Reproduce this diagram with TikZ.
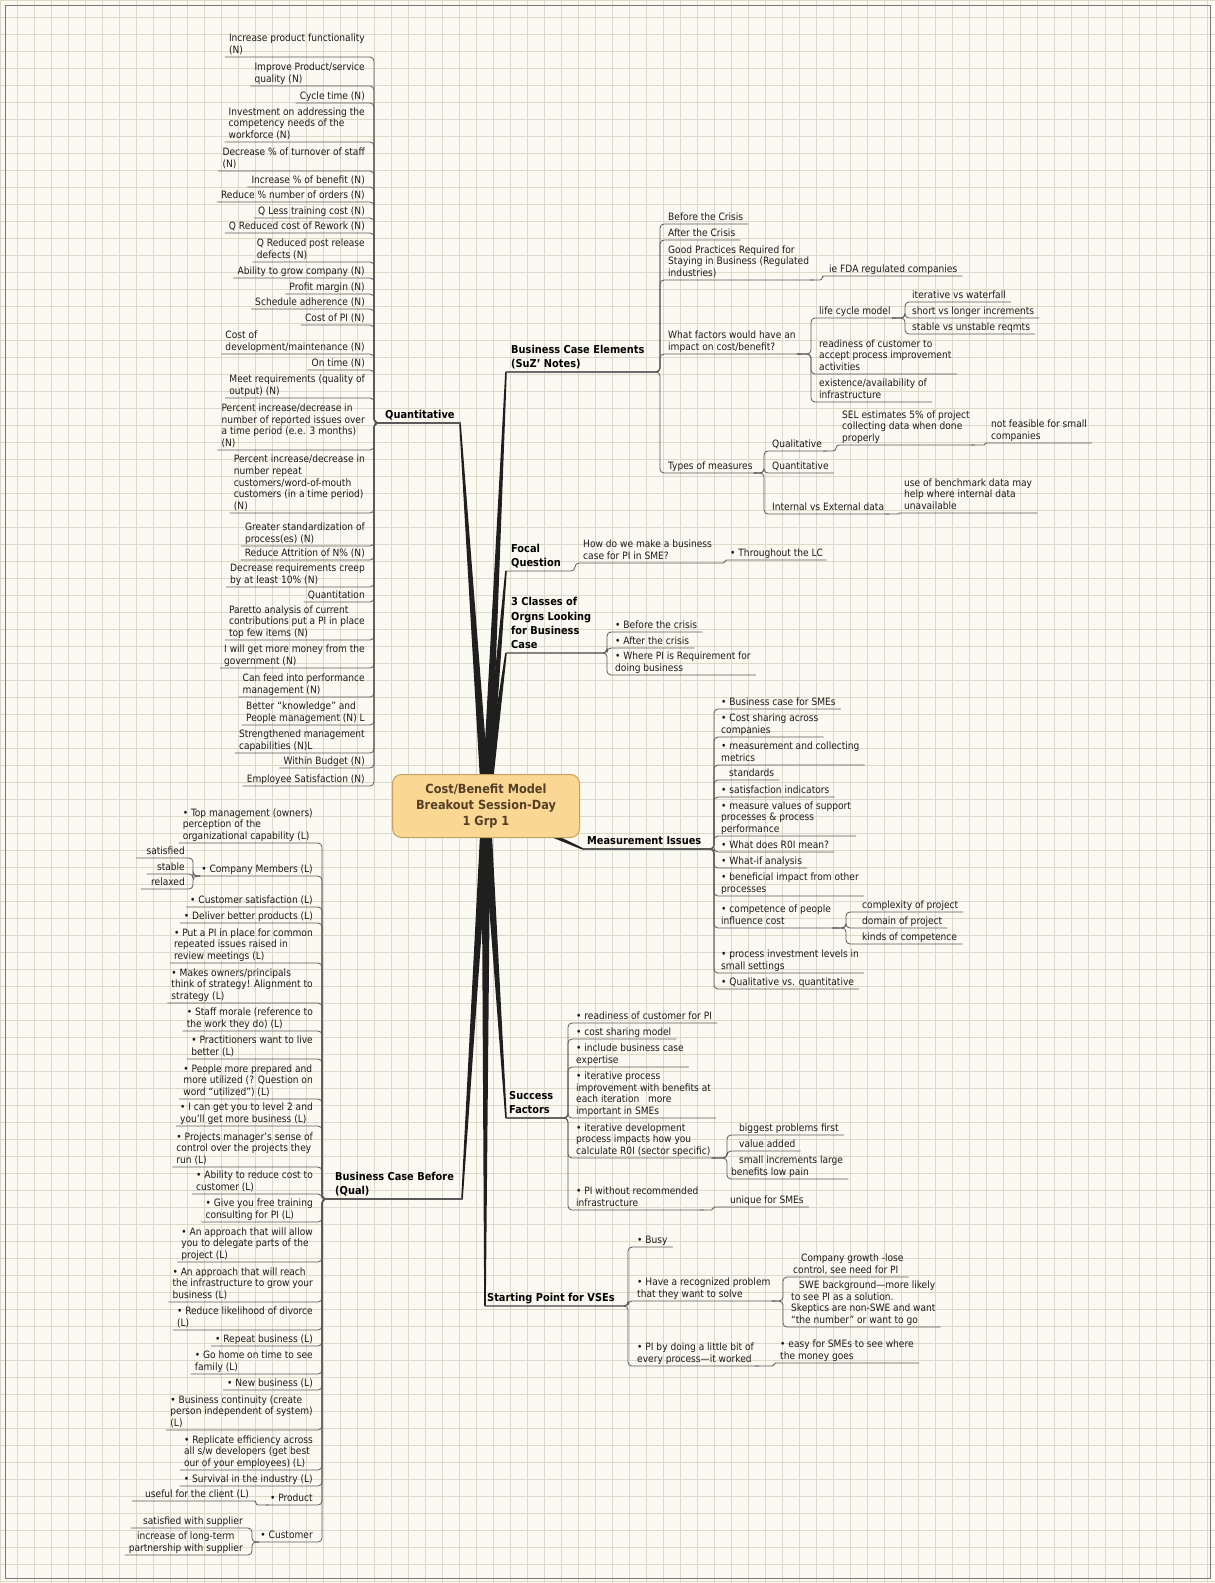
\documentclass[tikz,border=0pt]{standalone}
\usepackage{fontspec}
\setmainfont{DejaVu Sans Condensed}
\usetikzlibrary{calc}
\definecolor{paper}{RGB}{251,250,242}
\definecolor{gridc}{RGB}{218,218,200}
\definecolor{framec}{RGB}{120,120,120}
\definecolor{ink}{RGB}{25,25,25}
\definecolor{wire}{RGB}{90,90,90}
\definecolor{hubfill}{RGB}{250,216,148}
\definecolor{hubdraw}{RGB}{196,160,96}
\definecolor{hubtext}{RGB}{85,62,38}

\begin{document}
\begin{tikzpicture}[
    x=1pt, y=-1pt,
    leaf/.style={text=ink, font=\fontsize{10.1}{11.6}\selectfont, align=left,
        inner xsep=1pt, inner ysep=0pt, execute at end node=\strut},
    leafL/.style={leaf, anchor=south east},
    leafR/.style={leaf, anchor=south west},
    topic/.style={leaf, anchor=south west, text=black,
        font=\bfseries\fontsize{10.9}{14.2}\selectfont},
    hub/.style={draw=hubdraw, fill=hubfill, line width=1pt, rounded corners=9pt,
        text=hubtext, font=\bfseries\fontsize{12.6}{16}\selectfont, align=center,
        minimum width=187pt, minimum height=63pt, inner sep=0pt},
    conn/.style={draw=wire, line width=0.8pt, rounded corners=4pt},
    limb/.style={fill=black!88}
]
    \useasboundingbox (0,0) rectangle (1215,1583);
    % paper and grid
    \fill[paper] (0,0) rectangle (1215,1583);
    \foreach \x in {0,17,...,1215} \draw[gridc, line width=0.6pt] (\x,0) -- (\x,1583);
    \foreach \y in {0,17,...,1583} \draw[gridc, line width=0.6pt] (0,\y) -- (1215,\y);
    \draw[framec, line width=1pt] (5,5) rectangle (1210,1578);

    % branch ends
    \coordinate (ctr) at (486,806);
    \coordinate (bq) at (460,423);
    \coordinate (bb) at (462,1199);
    \coordinate (be) at (506,372);
    \coordinate (bf) at (506,571);
    \coordinate (bc) at (506,653);
    \coordinate (bm) at (583,849);
    \coordinate (bs) at (506,1118);
    \coordinate (bv) at (485,1306);

    \foreach \e in {bq,bb,be,bf,bc,bm,bs,bv}
        \fill[limb] ($(ctr)!4.5pt!90:(\e)$) -- ($(\e)!0.8pt!-90:(ctr)$)
            -- ($(\e)!0.8pt!90:(ctr)$) -- ($(ctr)!4.5pt!-90:(\e)$) -- cycle;

    \node[hub] (hub) at (ctr) {Cost/Benefit Model\\Breakout Session-Day\\1 Grp 1};

    % Quantitative
    \coordinate (qj) at (374,423);
    \node[topic] (quant) at (384,423) {Quantitative};
    \node[leafL] (q1) at (366,57) {Increase product functionality\\(N)};
    \node[leafL] (q2) at (366,86) {Improve Product/service\\quality (N)};
    \node[leafL] (q3) at (366,103) {Cycle time (N)};
    \node[leafL] (q4) at (366,142) {Investment on addressing the\\competency needs of the\\workforce (N)};
    \node[leafL] (q5) at (366,171) {Decrease \% of turnover of staff\\(N)};
    \node[leafL] (q6) at (366,187) {Increase \% of benefit (N)};
    \node[leafL] (q7) at (366,202) {Reduce \% number of orders (N)};
    \node[leafL] (q8) at (366,218) {Q Less training cost (N)};
    \node[leafL] (q9) at (366,233) {Q Reduced cost of Rework (N)};
    \node[leafL] (q10) at (366,262) {Q Reduced post release\\defects (N)};
    \node[leafL] (q11) at (366,278) {Ability to grow company (N)};
    \node[leafL] (q12) at (366,294) {Profit margin (N)};
    \node[leafL] (q13) at (366,309) {Schedule adherence (N)};
    \node[leafL] (q14) at (366,325) {Cost of PI (N)};
    \node[leafL] (q15) at (366,354) {Cost of\\development/maintenance (N)};
    \node[leafL] (q16) at (366,370) {On time (N)};
    \node[leafL] (q17) at (366,398) {Meet requirements (quality of\\output) (N)};
    \node[leafL] (q18) at (366,450) {Percent increase/decrease in\\number of reported issues over\\a time period (e.e. 3 months)\\(N)};
    \node[leafL] (q19) at (366,513) {Percent increase/decrease in\\number repeat\\customers/word-of-mouth\\customers (in a time period)\\(N)};
    \node[leafL] (q20) at (366,546) {Greater standardization of\\process(es) (N)};
    \node[leafL] (q21) at (366,560) {Reduce Attrition of N\% (N)};
    \node[leafL] (q22) at (366,587) {Decrease requirements creep\\by at least 10\% (N)};
    \node[leafL] (q23) at (366,602) {Quantitation};
    \node[leafL] (q24) at (366,640) {Paretto analysis of current\\contributions put a PI in place\\top few items (N)};
    \node[leafL] (q25) at (366,668) {I will get more money from the\\government (N)};
    \node[leafL] (q26) at (366,697) {Can feed into performance\\management (N)};
    \node[leafL] (q27) at (366,725) {Better “knowledge” and\\People management (N) L};
    \node[leafL] (q28) at (366,753) {Strengthened management\\capabilities (N)L};
    \node[leafL] (q29) at (366,768) {Within Budget (N)};
    \node[leafL] (q30) at (366,786) {Employee Satisfaction (N)};
    \foreach \i in {1,...,30}
        \draw[conn] (bq) -- (qj) |- ([xshift=-3]q\i.south west);

    % Business Case Before (Qual)
    \coordinate (bj) at (322,1199);
    \node[topic] (bcb) at (334,1199) {Business Case Before\\(Qual)};
    \node[leafL] (b1) at (314,843) {• Top management (owners)\\perception of the\\organizational capability (L)};
    \node[leafL] (b2) at (314,876) {• Company Members (L)};
    \node[leafL] (b3) at (314,907) {• Customer satisfaction (L)};
    \node[leafL] (b4) at (314,923) {• Deliver better products (L)};
    \node[leafL] (b5) at (314,963) {• Put a PI in place for common\\repeated issues raised in\\review meetings (L)};
    \node[leafL] (b6) at (314,1003) {• Makes owners/principals\\think of strategy! Alignment to\\strategy (L)};
    \node[leafL] (b7) at (314,1031) {• Staff morale (reference to\\the work they do) (L)};
    \node[leafL] (b8) at (314,1059) {• Practitioners want to live\\better (L)};
    \node[leafL] (b9) at (314,1099) {• People more prepared and\\more utilized (? Question on\\word “utilized”) (L)};
    \node[leafL] (b10) at (314,1126) {• I can get you to level 2 and\\you'll get more business (L)};
    \node[leafL] (b11) at (314,1167) {• Projects manager's sense of\\control over the projects they\\run (L)};
    \node[leafL] (b12) at (314,1194) {• Ability to reduce cost to\\customer (L)};
    \node[leafL] (b13) at (314,1222) {• Give you free training\\consulting for PI (L)};
    \node[leafL] (b14) at (314,1262) {• An approach that will allow\\you to delegate parts of the\\project (L)};
    \node[leafL] (b15) at (314,1302) {• An approach that will reach\\the infrastructure to grow your\\business (L)};
    \node[leafL] (b16) at (314,1330) {• Reduce likelihood of divorce\\(L)};
    \node[leafL] (b17) at (314,1346) {• Repeat business (L)};
    \node[leafL] (b18) at (314,1374) {• Go home on time to see\\family (L)};
    \node[leafL] (b19) at (314,1390) {• New business (L)};
    \node[leafL] (b20) at (314,1430) {• Business continuity (create\\person independent of system)\\(L)};
    \node[leafL] (b21) at (314,1470) {• Replicate efficiency across\\all s/w developers (get best\\our of your employees) (L)};
    \node[leafL] (b22) at (314,1486) {• Survival in the industry (L)};
    \node[leafL] (b23) at (314,1505) {• Product};
    \node[leafL] (b24) at (314,1542) {• Customer};
    \foreach \i in {1,...,24}
        \draw[conn] (bb) -- (bj) |- ([xshift=-3]b\i.south west);

    \coordinate (b2j) at (193,876);
    \node[leafL] (b2a) at (186,858) {satisfied};
    \node[leafL] (b2b) at (186,874) {stable};
    \node[leafL] (b2c) at (186,889) {relaxed};
    \foreach \k in {a,b,c}
        \draw[conn] (b2.south west) -- (b2j) |- ([xshift=-9]b2\k.south west);

    \coordinate (b23j) at (256,1505);
    \node[leafL] (b23a) at (250,1501) {useful for the client (L)};
    \draw[conn, rounded corners=2pt] (b23.south west) -- (b23j) |- ([xshift=-12]b23a.south west);

    \coordinate (b24j) at (252,1542);
    \node[leafL] (b24a) at (244,1528) {satisfied with supplier};
    \node[leafL, align=center] (b24b) at (244,1555) {increase of long-term\\partnership with supplier};
    \draw[conn] (b24.south west) -- (b24j) |- ([xshift=-11]b24a.south west);
    \draw[conn] (b24.south west) -- (b24j) |- ([xshift=-3]b24b.south west);

    % Business Case Elements (SuZ' Notes)
    \coordinate (ej) at (660,372);
    \node[topic] (bce) at (510,372) {Business Case Elements\\(SuZ' Notes)};
    \node[leafR] (e1) at (667,224) {Before the Crisis};
    \node[leafR] (e2) at (667,240) {After the Crisis};
    \node[leafR] (e3) at (667,280) {Good Practices Required for\\Staying in Business (Regulated\\industries)};
    \node[leafR] (e4) at (667,354) {What factors would have an\\impact on cost/benefit?};
    \node[leafR] (e5) at (667,473) {Types of measures};
    \foreach \i in {1,...,5}
        \draw[conn] (be) -- (ej) |- ([xshift=4]e\i.south east);

    \coordinate (e3j) at (822,280);
    \node[leafR] (e3a) at (828,276) {ie FDA regulated companies};
    \draw[conn, rounded corners=2pt] (e3.south east) -- (e3j) |- ([xshift=4]e3a.south east);

    \coordinate (e4j) at (811,354);
    \node[leafR] (e4a) at (818,318) {life cycle model};
    \node[leafR] (e4b) at (818,374) {readiness of customer to\\accept process improvement\\activities};
    \node[leafR] (e4c) at (818,402) {existence/availability of\\infrastructure};
    \foreach \k in {a,b,c}
        \draw[conn] (e4.south east) -- (e4j) |- ([xshift=4]e4\k.south east);

    \coordinate (e4aj) at (905,318);
    \node[leafR] (e4a1) at (911,302) {iterative vs waterfall};
    \node[leafR] (e4a2) at (911,318) {short vs longer increments};
    \node[leafR] (e4a3) at (911,334) {stable vs unstable reqmts};
    \foreach \k in {1,2,3}
        \draw[conn] (e4a.south east) -- (e4aj) |- ([xshift=4]e4a\k.south east);

    \coordinate (e5j) at (764,473);
    \node[leafR] (e5a) at (771,451) {Qualitative};
    \node[leafR] (e5b) at (771,473) {Quantitative};
    \node[leafR] (e5c) at (771,514) {Internal vs External data};
    \foreach \k in {a,b,c}
        \draw[conn] (e5.south east) -- (e5j) |- ([xshift=4]e5\k.south east);

    \coordinate (e5aj) at (836,451);
    \node[leafR] (e5a1) at (841,445) {SEL estimates 5\% of project\\collecting data when done\\properly};
    \draw[conn, rounded corners=3pt] (e5a.south east) -- (e5aj) |- ([xshift=4]e5a1.south east);
    \coordinate (e5a1j) at (985,445);
    \node[leafR] (e5a1a) at (990,443) {not feasible for small\\companies};
    \draw[conn, rounded corners=1pt] (e5a1.south east) -- (e5a1j) |- ([xshift=4]e5a1a.south east);

    \coordinate (e5cj) at (899,514);
    \node[leafR] (e5c1) at (903,513) {use of benchmark data may\\help where internal data\\unavailable};
    \draw[conn, rounded corners=0.5pt] (e5c.south east) -- (e5cj) |- ([xshift=4]e5c1.south east);

    % Focal Question
    \coordinate (fj) at (575,571);
    \node[topic] (foc) at (510,571) {Focal\\Question};
    \node[leafR] (f1) at (582,563) {How do we make a business\\case for PI in SME?};
    \draw[conn] (bf) -- (fj) |- (f1.south east);
    \coordinate (f1j) at (725,563);
    \node[leafR] (f2) at (729,560) {• Throughout the LC};
    \draw[conn, rounded corners=1.5pt] (f1.south east) -- (f1j) |- ([xshift=2]f2.south east);

    % 3 Classes of Orgns
    \coordinate (cj) at (607,653);
    \node[topic] (cls) at (510,653) {3 Classes of\\Orgns Looking\\for Business\\Case};
    \node[leafR] (c1) at (614,632) {• Before the crisis};
    \node[leafR] (c2) at (614,648) {• After the crisis};
    \node[leafR] (c3) at (614,675) {• Where PI is Requirement for\\doing business};
    \foreach \i in {1,2,3}
        \draw[conn] (bc) -- (cj) |- ([xshift=4]c\i.south east);

    % Measurement Issues
    \coordinate (mj) at (714,849);
    \node[topic] (mea) at (586,849) {Measurement Issues};
    \node[leafR] (m1) at (720,709) {• Business case for SMEs};
    \node[leafR] (m2) at (720,737) {• Cost sharing across\\companies};
    \node[leafR] (m3) at (720,765) {• measurement and collecting\\metrics};
    \node[leafR] (m4) at (728,780) {standards};
    \node[leafR] (m5) at (720,797) {• satisfaction indicators};
    \node[leafR] (m6) at (720,836) {• measure values of support\\processes \& process\\performance};
    \node[leafR] (m7) at (720,852) {• What does R0I mean?};
    \node[leafR] (m8) at (720,868) {• What-if analysis};
    \node[leafR] (m9) at (720,896) {• beneficial impact from other\\processes};
    \node[leafR] (m10) at (720,928) {• competence of people\\influence cost};
    \node[leafR] (m11) at (720,973) {• process investment levels in\\small settings};
    \node[leafR] (m12) at (720,989) {• Qualitative vs. quantitative};
    \foreach \i in {1,...,12}
        \draw[conn] (bm) -- (mj) |- ([xshift=4]m\i.south east);

    \coordinate (m10j) at (846,928);
    \node[leafR] (m10a) at (861,912) {complexity of project};
    \node[leafR] (m10b) at (861,928) {domain of project};
    \node[leafR] (m10c) at (861,944) {kinds of competence};
    \foreach \k in {a,b,c}
        \draw[conn] (m10.south east) -- (m10j) |- ([xshift=4]m10\k.south east);

    % Success Factors
    \coordinate (sj) at (568,1118);
    \node[topic] (suc) at (508,1118) {Success\\Factors};
    \node[leafR] (s1) at (575,1023) {• readiness of customer for PI};
    \node[leafR] (s2) at (575,1039) {• cost sharing model};
    \node[leafR] (s3) at (575,1067) {• include business case\\expertise};
    \node[leafR] (s4) at (575,1118) {• iterative process\\improvement with benefits at\\each iteration \ \ more\\important in SMEs};
    \node[leafR] (s5) at (575,1158) {• iterative development\\process impacts how you\\calculate R0I (sector specific)};
    \node[leafR] (s6) at (575,1210) {• PI without recommended\\infrastructure};
    \foreach \i in {1,...,6}
        \draw[conn] (bs) -- (sj) |- ([xshift=4]s\i.south east);

    \coordinate (s5j) at (727,1158);
    \node[leafR] (s5a) at (738,1135) {biggest problems first};
    \node[leafR] (s5b) at (738,1151) {value added};
    \node[leafR] (s5c) at (730,1179) {\hspace*{8pt}small increments large\\benefits low pain};
    \foreach \k in {a,b,c}
        \draw[conn] (s5.south east) -- (s5j) |- ([xshift=4]s5\k.south east);

    \coordinate (s6j) at (713,1210);
    \node[leafR] (s6a) at (729,1207) {unique for SMEs};
    \draw[conn, rounded corners=1.5pt] (s6.south east) -- (s6j) |- ([xshift=4]s6a.south east);

    % Starting Point for VSEs
    \coordinate (vj) at (628,1306);
    \node[topic] (sta) at (486,1306) {Starting Point for VSEs};
    \node[leafR] (v1) at (636,1247) {• Busy};
    \node[leafR] (v2) at (636,1301) {• Have a recognized problem\\that they want to solve};
    \node[leafR] (v3) at (636,1366) {• PI by doing a little bit of\\every process—it worked};
    \foreach \i in {1,2,3}
        \draw[conn] (bv) -- (vj) |- ([xshift=4]v\i.south east);

    \coordinate (v2j) at (783,1301);
    \node[leafR] (v2a) at (792,1277) {\hspace*{8pt}Company growth -lose\\control, see need for PI};
    \node[leafR] (v2b) at (790,1327) {\hspace*{8pt}SWE background—more likely\\to see PI as a solution.\\Skeptics are non-SWE and want\\“the number” or want to go};
    \draw[conn] (v2.south east) -- (v2j) |- ([xshift=4]v2a.south east);
    \draw[conn] (v2.south east) -- (v2j) |- ([xshift=4]v2b.south east);

    \coordinate (v3j) at (774,1366);
    \node[leafR] (v3a) at (779,1363) {• easy for SMEs to see where\\the money goes};
    \draw[conn, rounded corners=1.5pt] (v3.south east) -- (v3j) |- ([xshift=4]v3a.south east);
\end{tikzpicture}
\end{document}
